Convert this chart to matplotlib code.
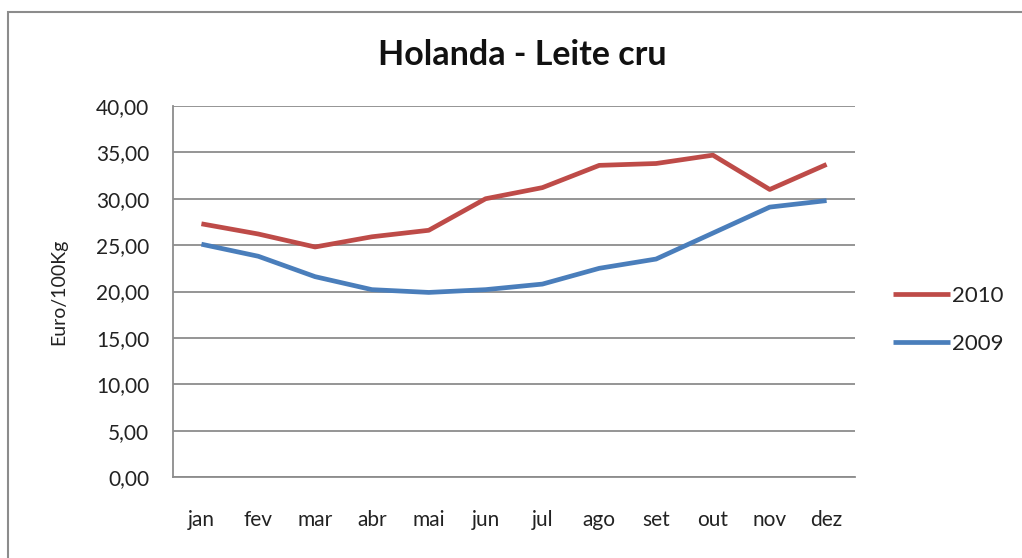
import matplotlib
matplotlib.use("Agg")
import matplotlib.pyplot as plt
from matplotlib.patches import Rectangle

months = ["jan", "fev", "mar", "abr", "mai", "jun", "jul", "ago", "set", "out", "nov", "dez"]
v2010 = [27.3, 26.2, 24.8, 25.9, 26.6, 30.0, 31.2, 33.6, 33.8, 34.7, 31.0, 33.7]
v2009 = [25.1, 23.8, 21.6, 20.2, 19.9, 20.2, 20.8, 22.5, 23.5, 26.3, 29.1, 29.8]
yticks = [0, 5, 10, 15, 20, 25, 30, 35, 40]

plt.rcParams['font.family'] = ['Lato', 'DejaVu Sans']

W, H = 1022, 558
fig = plt.figure(figsize=(W / 100, H / 100), dpi=100)
fig.patch.set_facecolor("white")

# outer chart border
fig.add_artist(Rectangle((8 / W, -0.1), 1.2, (H - 12) / H + 0.1, transform=fig.transFigure,
                         fill=False, edgecolor="#8c8c8c", linewidth=1.5))

ax = fig.add_axes([173 / W, (H - 477) / H, (855 - 173) / W, (477 - 106) / H])
x = list(range(len(months)))
ax.plot(x, v2010, color="#BE4B48", linewidth=3.4, label="2010", solid_capstyle="butt")
ax.plot(x, v2009, color="#4A7EBB", linewidth=3.4, label="2009", solid_capstyle="butt")

ax.set_xlim(-0.5, len(months) - 0.5)
ax.set_ylim(0, 40)
ax.set_yticks(yticks)
ax.set_yticklabels([f"{v:.2f}".replace(".", ",") for v in yticks], fontsize=15, color="#222222")
ax.set_xticks(x)
ax.set_xticklabels(months, fontsize=15, color="#222222")
ax.tick_params(axis="both", length=0)
ax.tick_params(axis="y", pad=17)
ax.tick_params(axis="x", pad=24)
ax.grid(axis="y", color="#8c8c8c", linewidth=1.3)
ax.set_axisbelow(True)
for s in ["top", "right"]:
    ax.spines[s].set_visible(False)
for s in ["left", "bottom"]:
    ax.spines[s].set_color("#8c8c8c")
    ax.spines[s].set_linewidth(1.3)

ax.set_ylabel("Euro/100Kg", fontsize=14, color="#222222")
ax.yaxis.set_label_coords((67 - 173) / (855 - 173), 0.5)

fig.text(522 / W, 1 - 55 / H, "Holanda - Leite cru", ha="center", va="center",
         fontsize=24.5, fontweight="bold", color="#111111")

leg = fig.legend(handles=ax.get_lines(), loc="center left", bbox_to_anchor=(893 / W, 1 - 320 / H),
                 frameon=False, fontsize=16, handlelength=2.55, handletextpad=0.1,
                 labelspacing=1.25, borderpad=0, borderaxespad=0)
for t in leg.get_texts():
    t.set_color("#222222")

fig.savefig("out.png", dpi=100, facecolor="white")
